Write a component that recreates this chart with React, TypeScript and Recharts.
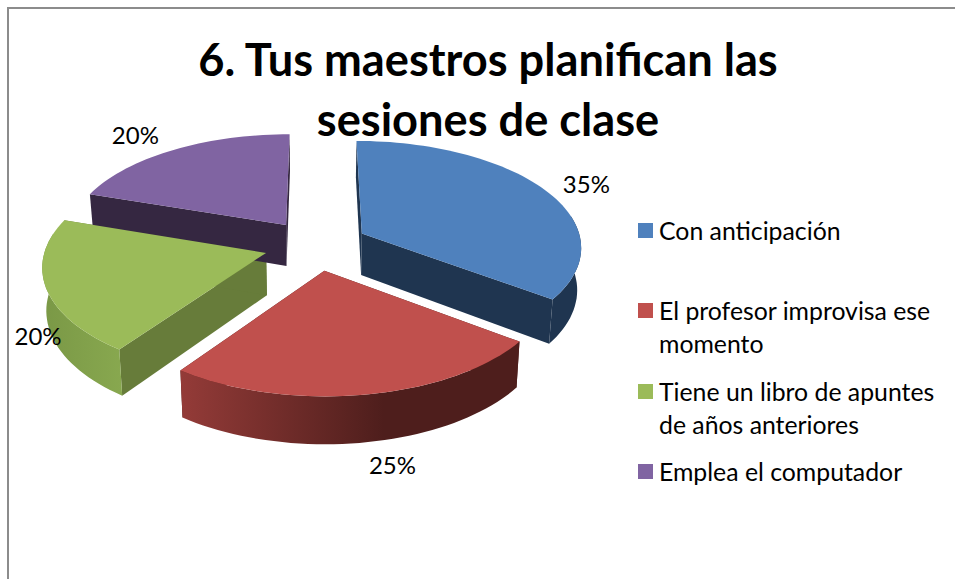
import { Legend, Pie, PieChart } from "recharts";

const categories = [
  "Con anticipación",
  "El profesor improvisa ese momento",
  "Tiene un libro de apuntes de años anteriores",
  "Emplea el computador",
];
const shares = [35, 25, 20, 20];
const colors = ["#4F81BD", "#C0504D", "#9BBB59", "#8064A2"];
const sideColors = ["#1F3550", "#4E1E1C", "#677C3A", "#352741"];
const titleLines = ["6. Tus maestros planifican las", "sesiones de clase"];

const table = categories.map((name, i) => ({
  name,
  value: shares[i],
  fill: colors[i],
}));

const FONT = "Lato, Carlito, sans-serif";
const TILT = 0.489;
const PERSPECTIVE = 0.114;
const EXPLODE = 52;
const DEPTH = 42;
// where each % label sits relative to the rim of its slice
const labelNudge = [
  [43.5, -5],
  [28, 70],
  [-8, 48],
  [-39, -15],
];

// pie angle (deg, counter-clockwise from 3 o'clock) + radius -> tilted 3D point on screen
function project(p: any, angle: number, r: number, z: number) {
  const rad = (angle * Math.PI) / 180;
  const mid = (p.midAngle * Math.PI) / 180;
  const X = EXPLODE * Math.cos(mid) + r * Math.cos(rad);
  const Y = -EXPLODE * Math.sin(mid) - r * Math.sin(rad);
  const s = 1 + (PERSPECTIVE * Y) / p.outerRadius;
  const shrink = 1 - (0.015 * z) / DEPTH;
  return [p.cx + X * s * shrink, p.cy + TILT * Y * s + z * s];
}

function rim(p: any, from: number, to: number, z: number) {
  const steps = Math.max(2, Math.ceil(Math.abs(to - from) / 2));
  const pts = [];
  for (let i = 0; i <= steps; i++) {
    pts.push(project(p, from + ((to - from) * i) / steps, p.outerRadius, z));
  }
  return pts;
}

const toPath = (pts: number[][]) =>
  "M" + pts.map((q) => q[0].toFixed(1) + "," + q[1].toFixed(1)).join("L") + "Z";

const withMid = (p: any) => ({
  ...p,
  midAngle: p.midAngle ?? (p.startAngle + p.endAngle) / 2,
});

function WallShape(raw: any) {
  const p = withMid(raw);
  const i = categories.indexOf(p.name);
  const apexTop = project(p, p.startAngle, 0, 0);
  const apexLow = project(p, p.startAngle, 0, DEPTH);
  const edge = (angle: number) =>
    toPath([
      apexTop,
      project(p, angle, p.outerRadius, 0),
      project(p, angle, p.outerRadius, DEPTH),
      apexLow,
    ]);
  // only the part of the outer wall that faces the viewer
  const lo = Math.max(Math.min(p.startAngle, p.endAngle), -280);
  const hi = Math.min(Math.max(p.startAngle, p.endAngle), 10);
  const hasArc = hi > lo && lo < 10 && hi > -190;
  const from = Math.max(lo, -190);
  return (
    <g>
      <path d={edge(p.startAngle)} fill={sideColors[i]} />
      <path d={edge(p.endAngle)} fill={sideColors[i]} />
      {hasArc && (
        <path
          d={toPath([
            ...rim(p, from, hi, 0),
            ...rim(p, from, hi, DEPTH).reverse(),
          ])}
          fill={`url(#wall${i})`}
        />
      )}
    </g>
  );
}

function TopShape(raw: any) {
  const p = withMid(raw);
  return (
    <path
      d={toPath([
        project(p, p.startAngle, 0, 0),
        ...rim(p, p.startAngle, p.endAngle, 0),
      ])}
      fill={p.fill}
    />
  );
}

function ShareLabel(raw: any) {
  const p = withMid(raw);
  const i = categories.indexOf(p.name);
  const q = project(p, p.midAngle, p.outerRadius, 0);
  return (
    <text
      x={q[0] + labelNudge[i][0]}
      y={q[1] + labelNudge[i][1]}
      textAnchor="middle"
      dominantBaseline="central"
      fontFamily={FONT}
      fontSize={24}
      fill="#000"
    >
      {p.value}%
    </text>
  );
}

function LegendList() {
  return (
    <div style={{ fontFamily: FONT, fontSize: 24.8, lineHeight: "33px", color: "#000" }}>
      {table.map((d) => (
        <div key={d.name} style={{ height: 80.3, display: "flex", alignItems: "flex-start" }}>
          <span
            style={{
              flex: "none",
              width: 15,
              height: 15,
              marginTop: 9,
              marginRight: 6,
              background: d.fill,
            }}
          />
          <span>{d.name}</span>
        </div>
      ))}
    </div>
  );
}

export default function App() {
  return (
    <div style={{ position: "absolute", left: 0, top: 0, width: 955, height: 579, overflow: "hidden", background: "#fff" }}>
      <div
        style={{
          position: "absolute",
          left: 7,
          top: 7,
          right: 0,
          bottom: 0,
          borderLeft: "2px solid #8C8C8C",
          borderTop: "2px solid #8C8C8C",
        }}
      />
      <div style={{ position: "absolute", left: 0, top: 0 }}>
        <PieChart width={955} height={579} margin={{ top: 0, right: 0, bottom: 0, left: 0 }}>
          <defs>
            <linearGradient id="wall0" x1="0" y1="0" x2="1" y2="0">
              <stop offset="0" stopColor="#1F3550" />
              <stop offset="1" stopColor="#1F3550" />
            </linearGradient>
            <linearGradient id="wall1" x1="0" y1="0" x2="1" y2="0">
              <stop offset="0" stopColor="#943B38" />
              <stop offset="0.6" stopColor="#4E1E1C" />
              <stop offset="1" stopColor="#4E1E1C" />
            </linearGradient>
            <linearGradient id="wall2" x1="0" y1="0" x2="1" y2="0">
              <stop offset="0" stopColor="#7A9846" />
              <stop offset="1" stopColor="#88A84F" />
            </linearGradient>
            <linearGradient id="wall3" x1="0" y1="0" x2="1" y2="0">
              <stop offset="0" stopColor="#352741" />
              <stop offset="1" stopColor="#352741" />
            </linearGradient>
          </defs>
          <Pie
            data={table}
            dataKey="value"
            nameKey="name"
            cx={316}
            cy={245}
            outerRadius={220}
            startAngle={90}
            endAngle={-270}
            legendType="none"
            isAnimationActive={false}
            shape={WallShape}
          />
          <Pie
            data={table}
            dataKey="value"
            nameKey="name"
            cx={316}
            cy={245}
            outerRadius={220}
            startAngle={90}
            endAngle={-270}
            isAnimationActive={false}
            shape={TopShape}
            label={ShareLabel}
            labelLine={false}
          />
          <Legend
            layout="vertical"
            align="right"
            verticalAlign="top"
            wrapperStyle={{ left: 638, right: "auto", top: 214, width: 300 }}
            content={LegendList}
          />
        </PieChart>
      </div>
      <div
        style={{
          position: "absolute",
          left: 8,
          top: 29,
          width: 960,
          textAlign: "center",
          fontFamily: FONT,
          fontWeight: 700,
          fontSize: 45.2,
          lineHeight: "59.5px",
          color: "#000",
        }}
      >
        {titleLines.map((t) => (
          <div key={t}>{t}</div>
        ))}
      </div>
    </div>
  );
}
